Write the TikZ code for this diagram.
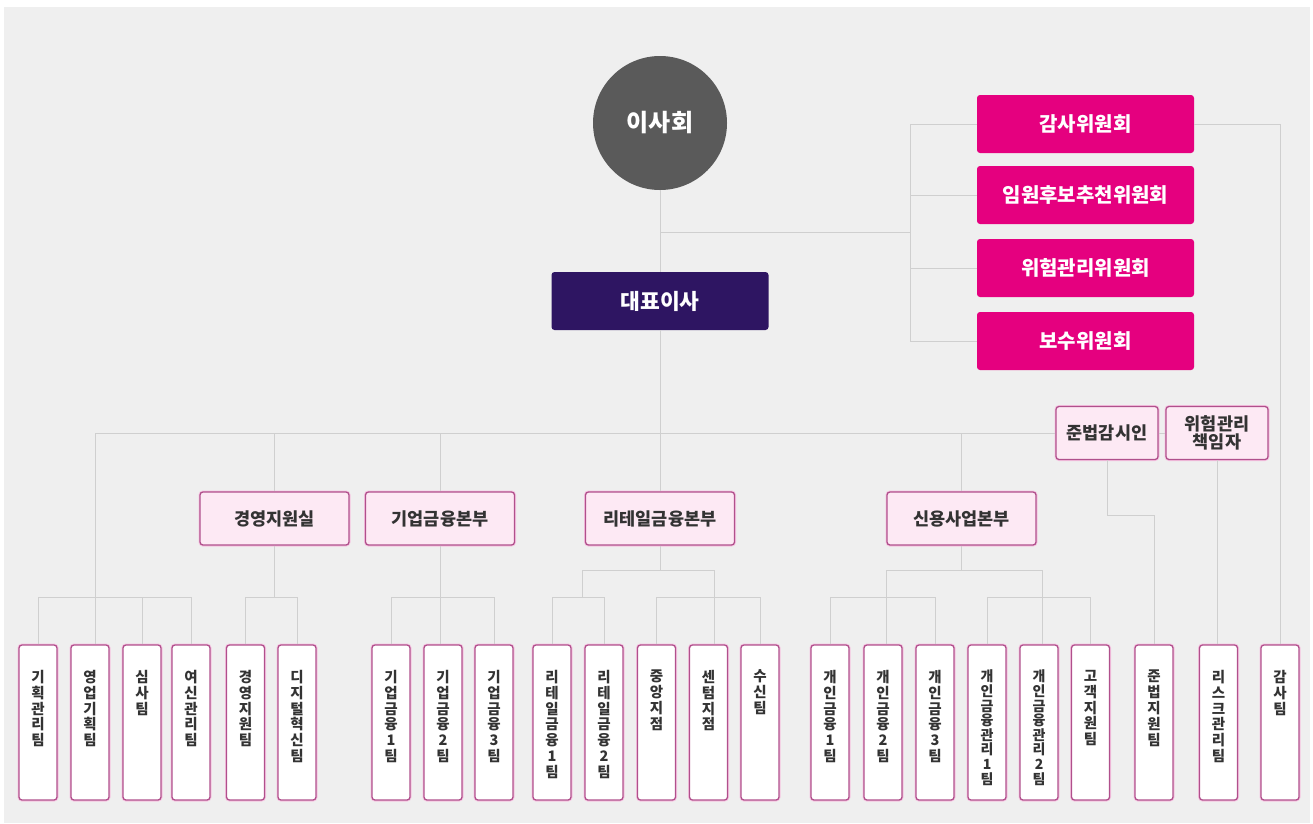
\documentclass[tikz,border=0pt]{standalone}
\usepackage{fontspec}
\setmainfont{Noto Sans CJK KR}
\definecolor{bggray}{HTML}{EFEFEF}
\definecolor{boardgray}{HTML}{5A5A5A}
\definecolor{ceopurple}{HTML}{2E1562}
\definecolor{cmtpink}{HTML}{E5007F}
\definecolor{deptfill}{HTML}{FDE9F4}
\definecolor{boxline}{HTML}{B0508C}
\definecolor{glowpink}{HTML}{F6C4E1}
\definecolor{linegray}{HTML}{CFCFCF}
\definecolor{textgray}{HTML}{333333}
\newcommand{\vtxt}[1]{\parbox[c][155pt][t]{20pt}{\vspace*{25pt}\centering #1}}

\begin{document}
\begin{tikzpicture}[x=1pt,y=-1pt,
        link/.style={draw=linegray, line width=0.9pt},
        board/.style={circle, fill=boardgray, text=white, minimum size=134pt, inner sep=0pt, font=\fontsize{24}{28}\selectfont\bfseries},
        ceo/.style={rectangle, rounded corners=3pt, fill=ceopurple, text=white, minimum width=217pt, minimum height=58pt, font=\fontsize{21.5}{24}\selectfont\bfseries},
        cmte/.style={rectangle, rounded corners=3pt, fill=cmtpink, text=white, minimum width=217pt, minimum height=58pt, font=\fontsize{20}{24}\selectfont\bfseries},
        dept/.style={rectangle, rounded corners=3pt, fill=deptfill, draw=boxline, line width=1.3pt, preaction={draw=glowpink, line width=3pt}, text=textgray, minimum width=149pt, minimum height=53pt, font=\fontsize{17.5}{20}\selectfont\bfseries},
        officer/.style={dept, minimum width=102pt, align=center, inner xsep=2pt, font=\fontsize{17.5}{18.5}\selectfont\bfseries},
        team/.style={rectangle, rounded corners=3pt, fill=white, draw=boxline, line width=1.3pt, preaction={draw=glowpink, line width=3pt}, text=textgray, minimum width=38pt, inner sep=0pt, font=\fontsize{14.5}{15.9}\selectfont\bfseries},
        longteam/.style={team, font=\fontsize{14}{14.6}\selectfont\bfseries}]
        \useasboundingbox (0,0) rectangle (1313,823);
        \fill[bggray] (4,7) rectangle (1310,823);

        \node[board] (board) at (660,123) {이사회};
        \node[ceo] (ceo) at (660,301) {대표이사};
        \node[cmte] (audc) at (1085.5,124) {감사위원회};
        \node[cmte] (nomc) at (1085.5,195) {임원후보추천위원회};
        \node[cmte] (riskc) at (1085.5,268) {위험관리위원회};
        \node[cmte] (payc) at (1085.5,341) {보수위원회};
        \node[officer] (comp) at (1107,433) {준법감시인};
        \node[officer] (cro) at (1217,433) {위험관리\\책임자};
        \node[dept] (mgmt) at (274.5,518.5) {경영지원실};
        \node[dept] (corp) at (440,518.5) {기업금융본부};
        \node[dept] (retail) at (660,518.5) {리테일금융본부};
        \node[dept] (credit) at (961.5,518.5) {신용사업본부};

        \foreach \x/\n/\t in {38/plan/{기\\획\\관\\리\\팀}, 90/sales/{영\\업\\기\\획\\팀},
                142/review/{심\\사\\팀}, 191/loan/{여\\신\\관\\리\\팀},
                245.5/mgsup/{경\\영\\지\\원\\팀}, 297/digit/{디\\지\\털\\혁\\신\\팀},
                391/corpA/{기\\업\\금\\융\\1\\팀}, 443/corpB/{기\\업\\금\\융\\2\\팀}, 494/corpC/{기\\업\\금\\융\\3\\팀},
                552/retA/{리\\테\\일\\금\\융\\1\\팀}, 604/retB/{리\\테\\일\\금\\융\\2\\팀},
                656.5/central/{중\\앙\\지\\점}, 708.5/centum/{센\\텀\\지\\점}, 760/deposit/{수\\신\\팀},
                830/persA/{개\\인\\금\\융\\1\\팀}, 883/persB/{개\\인\\금\\융\\2\\팀}, 935/persC/{개\\인\\금\\융\\3\\팀},
                1090.5/cust/{고\\객\\지\\원\\팀}, 1154/compt/{준\\법\\지\\원\\팀},
                1218.5/riskt/{리\\스\\크\\관\\리\\팀}, 1280/auditt/{감\\사\\팀}}
            \node[team] (\n) at (\x,722.5) {\vtxt{\t}};
        \node[longteam] (pmgA) at (987,722.5) {\vtxt{개\\인\\금\\융\\관\\리\\1\\팀}};
        \node[longteam] (pmgB) at (1039,722.5) {\vtxt{개\\인\\금\\융\\관\\리\\2\\팀}};

        \coordinate (row0) at (0,515);
        \coordinate (row2) at (0,570);
        \coordinate (row1) at (0,597.5);
        \coordinate (cj) at (660,232);
        \coordinate (cb) at (910,232);
        \coordinate (busL) at (95,433);
        \coordinate (rL) at (582,570);
        \coordinate (rR) at (714,570);
        \coordinate (cL) at (886,570);
        \coordinate (cR) at (1042,570);

        \draw[link] (board) -- (ceo);
        \draw[link] (ceo) -- (retail);
        \draw[link] (cj) -- (cb);
        \draw[link] (audc.west) -- (audc.west -| cb) -- (payc.west -| cb) -- (payc.west);
        \foreach \c in {nomc,riskc} \draw[link] (\c.west) -- (\c.west -| cb);
        \draw[link] (audc.east) -| (auditt.north);
        \draw[link] (busL) -- (comp.west);
        \draw[link] (comp.east) -- (cro.west);
        \draw[link] (busL) -- (busL |- sales.north);
        \foreach \d in {mgmt,corp,credit} \draw[link] (\d.north |- busL) -- (\d.north);

        \draw[link] (plan.north) |- (loan.north |- row1) -- (loan.north);
        \draw[link] (review.north) -- (review.north |- row1);
        \draw[link] (mgmt) -- (mgmt |- row1);
        \draw[link] (mgsup.north) |- (digit.north |- row1) -- (digit.north);
        \draw[link] (corp) -- (corp |- corpB.north);
        \draw[link] (corpA.north) |- (corpC.north |- row1) -- (corpC.north);
        \draw[link] (retail) -- (retail |- row2);
        \draw[link] (rL |- row1) -- (rL) -- (rR) -- (rR |- centum.north);
        \draw[link] (retA.north) |- (retB.north |- row1) -- (retB.north);
        \draw[link] (central.north) |- (deposit.north |- row1) -- (deposit.north);
        \draw[link] (credit) -- (credit |- row2);
        \draw[link] (cL |- persB.north) -- (cL) -- (cR) -- (cR |- pmgB.north);
        \draw[link] (persA.north) |- (persC.north |- row1) -- (persC.north);
        \draw[link] (pmgA.north) |- (cust.north |- row1) -- (cust.north);
        \draw[link] (comp) -- (comp |- row0) -| (compt.north);
        \draw[link] (cro) -- (cro |- riskt.north);
    \end{tikzpicture}
\end{document}
